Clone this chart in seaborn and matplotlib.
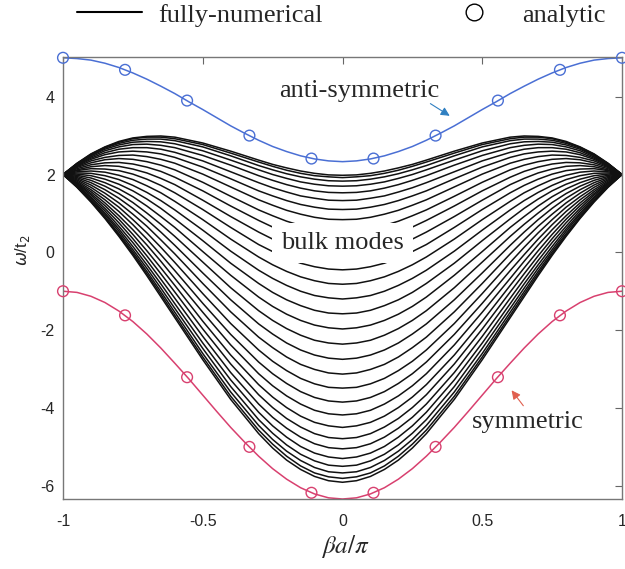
import matplotlib
matplotlib.use("Agg")
import matplotlib.pyplot as plt
from matplotlib.lines import Line2D
from matplotlib.font_manager import FontProperties
import pandas as pd
import seaborn as sns

sns.set_style("white")
plt.rcParams["font.family"] = ["Liberation Sans", "DejaVu Sans"]
plt.rcParams["axes.unicode_minus"] = False

# ---------------- data ----------------
# bulk modes: values at beta*a/pi >= 0 (curves are symmetric in x)
x_half = [0.0, 0.05, 0.1, 0.15, 0.2, 0.25, 0.3, 0.4, 0.5, 0.6,
          0.65, 0.7, 0.75, 0.8, 0.85, 0.9, 0.95, 1.0]
bulk_half = [
    [1.98, 1.99, 2.03, 2.09, 2.17, 2.26, 2.37, 2.60, 2.81, 2.96, 2.99, 2.98, 2.94, 2.85, 2.71, 2.53, 2.29, 2.0],
    [1.92, 1.94, 1.97, 2.03, 2.11, 2.21, 2.32, 2.55, 2.77, 2.92, 2.96, 2.96, 2.92, 2.83, 2.70, 2.52, 2.28, 2.0],
    [1.83, 1.84, 1.88, 1.94, 2.02, 2.12, 2.23, 2.48, 2.71, 2.87, 2.91, 2.91, 2.88, 2.80, 2.68, 2.50, 2.28, 2.0],
    [1.70, 1.71, 1.75, 1.81, 1.90, 2.00, 2.12, 2.37, 2.61, 2.79, 2.84, 2.85, 2.83, 2.76, 2.65, 2.48, 2.27, 2.0],
    [1.53, 1.54, 1.58, 1.65, 1.74, 1.85, 1.97, 2.24, 2.49, 2.69, 2.75, 2.78, 2.77, 2.71, 2.61, 2.45, 2.25, 2.0],
    [1.33, 1.34, 1.39, 1.45, 1.55, 1.66, 1.79, 2.07, 2.35, 2.57, 2.65, 2.69, 2.69, 2.65, 2.56, 2.42, 2.24, 2.0],
    [1.10, 1.11, 1.16, 1.23, 1.33, 1.45, 1.58, 1.89, 2.19, 2.44, 2.53, 2.58, 2.60, 2.58, 2.51, 2.39, 2.22, 2.0],
    [0.84, 0.85, 0.90, 0.98, 1.08, 1.21, 1.35, 1.68, 2.01, 2.29, 2.39, 2.46, 2.50, 2.49, 2.44, 2.35, 2.20, 2.0],
    [0.55, 0.57, 0.61, 0.69, 0.80, 0.94, 1.09, 1.44, 1.80, 2.12, 2.24, 2.33, 2.39, 2.41, 2.38, 2.30, 2.18, 2.0],
    [0.24, 0.25, 0.31, 0.39, 0.51, 0.65, 0.82, 1.19, 1.58, 1.93, 2.08, 2.19, 2.27, 2.31, 2.30, 2.25, 2.15, 2.0],
    [-0.10, -0.08, -0.02, 0.07, 0.19, 0.34, 0.52, 0.92, 1.34, 1.74, 1.90, 2.04, 2.14, 2.21, 2.23, 2.20, 2.12, 2.0],
    [-0.45, -0.43, -0.37, -0.28, -0.14, 0.02, 0.20, 0.64, 1.10, 1.53, 1.72, 1.88, 2.01, 2.10, 2.14, 2.15, 2.10, 2.0],
    [-0.82, -0.80, -0.73, -0.63, -0.49, -0.32, -0.12, 0.34, 0.84, 1.31, 1.53, 1.71, 1.87, 1.98, 2.06, 2.09, 2.07, 2.0],
    [-1.20, -1.17, -1.11, -1.00, -0.85, -0.67, -0.46, 0.03, 0.57, 1.09, 1.33, 1.54, 1.72, 1.87, 1.97, 2.03, 2.04, 2.0],
    [-1.58, -1.56, -1.49, -1.37, -1.22, -1.03, -0.80, -0.28, 0.30, 0.86, 1.13, 1.37, 1.58, 1.75, 1.88, 1.97, 2.01, 2.0],
    [-1.97, -1.94, -1.87, -1.75, -1.59, -1.39, -1.15, -0.59, 0.02, 0.64, 0.92, 1.19, 1.43, 1.63, 1.79, 1.91, 1.98, 2.0],
    [-2.36, -2.33, -2.26, -2.13, -1.96, -1.75, -1.50, -0.91, -0.25, 0.41, 0.72, 1.01, 1.28, 1.51, 1.70, 1.85, 1.95, 2.0],
    [-2.75, -2.72, -2.64, -2.51, -2.33, -2.10, -1.84, -1.22, -0.53, 0.18, 0.52, 0.84, 1.13, 1.39, 1.61, 1.79, 1.92, 2.0],
    [-3.13, -3.10, -3.01, -2.88, -2.69, -2.45, -2.18, -1.53, -0.80, -0.04, 0.32, 0.67, 0.98, 1.27, 1.52, 1.73, 1.89, 2.0],
    [-3.49, -3.47, -3.38, -3.24, -3.04, -2.80, -2.51, -1.83, -1.06, -0.26, 0.13, 0.50, 0.84, 1.16, 1.43, 1.67, 1.86, 2.0],
    [-3.85, -3.82, -3.73, -3.58, -3.37, -3.12, -2.82, -2.11, -1.31, -0.47, -0.06, 0.34, 0.71, 1.05, 1.35, 1.61, 1.83, 2.0],
    [-4.18, -4.15, -4.06, -3.90, -3.69, -3.43, -3.12, -2.38, -1.54, -0.67, -0.23, 0.19, 0.58, 0.94, 1.27, 1.56, 1.80, 2.0],
    [-4.50, -4.46, -4.37, -4.21, -3.99, -3.72, -3.40, -2.64, -1.77, -0.85, -0.40, 0.04, 0.46, 0.85, 1.20, 1.51, 1.78, 2.0],
    [-4.79, -4.76, -4.66, -4.49, -4.27, -3.99, -3.66, -2.87, -1.97, -1.02, -0.55, -0.09, 0.35, 0.76, 1.13, 1.47, 1.76, 2.0],
    [-5.05, -5.02, -4.92, -4.75, -4.52, -4.24, -3.90, -3.09, -2.16, -1.18, -0.69, -0.21, 0.25, 0.67, 1.07, 1.42, 1.74, 2.0],
    [-5.30, -5.26, -5.16, -4.99, -4.75, -4.46, -4.11, -3.28, -2.33, -1.32, -0.81, -0.32, 0.15, 0.60, 1.01, 1.39, 1.72, 2.0],
    [-5.50, -5.47, -5.36, -5.19, -4.95, -4.65, -4.30, -3.45, -2.47, -1.44, -0.92, -0.41, 0.07, 0.54, 0.97, 1.35, 1.70, 2.0],
    [-5.67, -5.64, -5.53, -5.35, -5.11, -4.81, -4.45, -3.59, -2.60, -1.54, -1.01, -0.49, 0.01, 0.48, 0.92, 1.33, 1.69, 2.0],
    [-5.81, -5.77, -5.67, -5.49, -5.24, -4.93, -4.57, -3.70, -2.69, -1.62, -1.08, -0.55, -0.04, 0.44, 0.89, 1.31, 1.68, 2.0],
    [-5.91, -5.87, -5.76, -5.58, -5.34, -5.03, -4.66, -3.78, -2.76, -1.68, -1.14, -0.60, -0.08, 0.41, 0.87, 1.29, 1.67, 2.0],
]

# edge modes (fully-numerical lines), values at x = 0, 0.05, ..., 1.0
x_edge_half = [0.0, 0.05, 0.1, 0.15, 0.2, 0.25, 0.3, 0.35, 0.4, 0.45, 0.5,
               0.55, 0.6, 0.65, 0.7, 0.75, 0.8, 0.85, 0.9, 0.95, 1.0]
anti_half = [2.33, 2.35, 2.40, 2.48, 2.59, 2.72, 2.88, 3.06, 3.25, 3.46, 3.67,
             3.87, 4.08, 4.27, 4.45, 4.61, 4.75, 4.86, 4.94, 4.98, 5.00]
sym_half = [-6.34, -6.31, -6.21, -6.05, -5.83, -5.56, -5.24, -4.88, -4.50, -4.09, -3.67,
            -3.25, -2.85, -2.46, -2.10, -1.78, -1.51, -1.29, -1.13, -1.03, -1.00]

# analytic points
x_marks = [-1.0, -0.778, -0.556, -0.333, -0.111, 0.111, 0.333, 0.556, 0.778, 1.0]
anti_marks = [5.0, 4.69, 3.90, 3.00, 2.41, 2.41, 3.00, 3.90, 4.69, 5.0]
sym_marks = [-1.0, -1.62, -3.21, -5.0, -6.18, -6.18, -5.0, -3.21, -1.62, -1.0]

x_ticks = [-1, -0.5, 0, 0.5, 1]
x_ticklabels = ["-1", "-0.5", "0", "0.5", "1"]
y_ticks = [-6, -4, -2, 0, 2, 4]
y_ticklabels = ["-6", "-4", "-2", "0", "2", "4"]


def mirror_x(h):
    return [-v for v in reversed(h[1:])] + list(h)


def mirror_y(h):
    return list(reversed(h[1:])) + list(h)


x_full = mirror_x(x_half)
rows = []
for n, h in enumerate(bulk_half):
    for xv, yv in zip(x_full, mirror_y(h)):
        rows.append({"x": xv, "omega": yv, "mode": n})
df_bulk = pd.DataFrame(rows)

x_edge = mirror_x(x_edge_half)
df_anti = pd.DataFrame({"x": x_edge, "omega": mirror_y(anti_half)})
df_sym = pd.DataFrame({"x": x_edge, "omega": mirror_y(sym_half)})

BLUE = "#4a6fd4"
RED = "#d8406f"
serif = ["Liberation Serif", "DejaVu Serif"]

# ---------------- figure ----------------
fig = plt.figure(figsize=(6.25, 5.69), dpi=100)
ax = fig.add_axes([63 / 625, 1 - 499 / 569, (622 - 63) / 625, (499 - 57) / 569])

sns.lineplot(data=df_bulk, x="x", y="omega", units="mode", estimator=None,
             color="#111111", lw=1.1, ax=ax, legend=False)
sns.lineplot(data=df_anti, x="x", y="omega", estimator=None, color=BLUE, lw=1.1, ax=ax)
sns.lineplot(data=df_sym, x="x", y="omega", estimator=None, color=RED, lw=1.1, ax=ax)
sns.scatterplot(x=x_marks, y=anti_marks, marker="o", s=60, facecolors="none",
                edgecolors=BLUE, linewidths=1.0, clip_on=False, ax=ax, zorder=5)
sns.scatterplot(x=x_marks, y=sym_marks, marker="o", s=60, facecolors="none",
                edgecolors=RED, linewidths=1.0, clip_on=False, ax=ax, zorder=5)

ax.set_xlim(-1, 1)
ax.set_ylim(-6.34, 5.02)
ax.set_xticks(x_ticks)
ax.set_xticklabels(x_ticklabels)
ax.set_yticks(y_ticks)
ax.set_yticklabels(y_ticklabels)
ax.set_xlabel("")
ax.set_ylabel("")
ax.tick_params(direction="in", length=5, width=0.8, top=True, right=True,
               labelsize=11.5, color="#666666", labelcolor="#262626")
ax.tick_params(axis="x", pad=11)
ax.tick_params(axis="y", pad=6)
for sp in ax.spines.values():
    sp.set_color("#777777")
    sp.set_linewidth(1.0)

# annotations
ax.text(0.0, 0.24, "bulk modes", family=serif, fontsize=19, ha="center", va="center",
        bbox=dict(boxstyle="square,pad=0.35", fc="white", ec="none"), zorder=4)
ax.text(0.059, 4.14, "anti-symmetric", family=serif, fontsize=19, ha="center", va="center")
ax.text(0.662, -4.35, "symmetric", family=serif, fontsize=19, ha="center", va="center")
ax.annotate("", xy=(0.392, 3.47), xytext=(0.306, 3.86),
            arrowprops=dict(arrowstyle="-|>", color="#2f7fc1", lw=0.8, mutation_scale=13))
ax.annotate("", xy=(0.599, -3.49), xytext=(0.653, -4.0),
            arrowprops=dict(arrowstyle="-|>", color="#e0604f", lw=0.8, mutation_scale=13))

# axis labels
fig.text(22 / 625, 1 - 250 / 569, r"$\omega$/t$_2$", rotation=90, ha="center",
         va="center", fontsize=12, color="#262626")
fig.text(345 / 625, 1 - 547 / 569, r"$\beta a/\pi$", math_fontfamily="stix",
         fontsize=18, ha="center", va="center")

# legend above the axes
handles = [Line2D([], [], color="black", lw=1.5),
           Line2D([], [], ls="none", marker="o", mfc="none", mec="black", ms=12, mew=1.0)]
fig.legend(handles, ["fully-numerical", "analytic"], loc="center left",
           bbox_to_anchor=(77 / 625, 1 - 15 / 569), ncol=2, frameon=False,
           prop=FontProperties(family=serif, size=19), handlelength=2.46,
           handletextpad=0.6, columnspacing=4.53, borderpad=0, borderaxespad=0)

fig.savefig("out.png", dpi=100)
